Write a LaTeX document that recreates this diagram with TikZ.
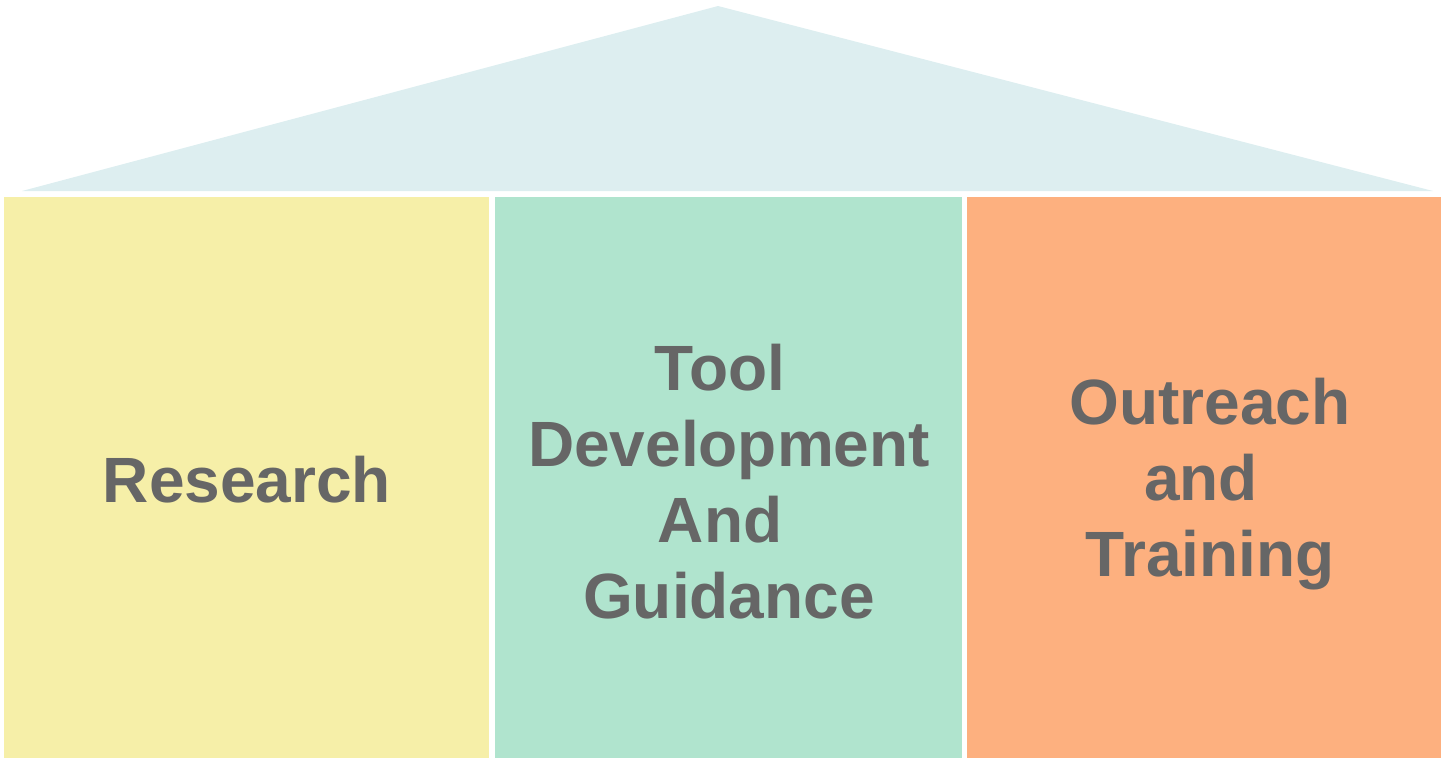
\documentclass[tikz,border=0pt]{standalone}
\usepackage{fontspec}
\setmainfont{Liberation Sans}
\definecolor{roofc}{HTML}{DDEEF0}
\definecolor{yel}{HTML}{F6EFA8}
\definecolor{grn}{HTML}{B0E4CE}
\definecolor{org}{HTML}{FDB07F}
\definecolor{txt}{HTML}{666666}
\newcommand{\trail}{\kern18pt\relax}
\begin{document}
\begin{tikzpicture}[x=1pt,y=-1pt,
  lbl/.style={text=txt,font=\fontsize{64}{76}\selectfont\bfseries,align=center}]
\useasboundingbox (0,0) rectangle (1441,758);
\fill[roofc] (718,6) coordinate (apex) -- (1433,191) coordinate (rr) -- (22,191) coordinate (rl) -- cycle;
\fill[yel] (4,197) coordinate (y1) rectangle (489,758) coordinate (y2);
\fill[grn] (495,197) coordinate (g1) rectangle (962,758) coordinate (g2);
\fill[org] (967,197) coordinate (o1) rectangle (1441,758) coordinate (o2);
\node[lbl] (research) at (247,480) {Research};
\node[lbl] (tool) at (729,482) {Tool\trail\\Development\\And\trail\\Guidance};
\node[lbl] (outreach) at (1210,484) {Outreach\\and\trail\\Training};
\end{tikzpicture}
\end{document}
